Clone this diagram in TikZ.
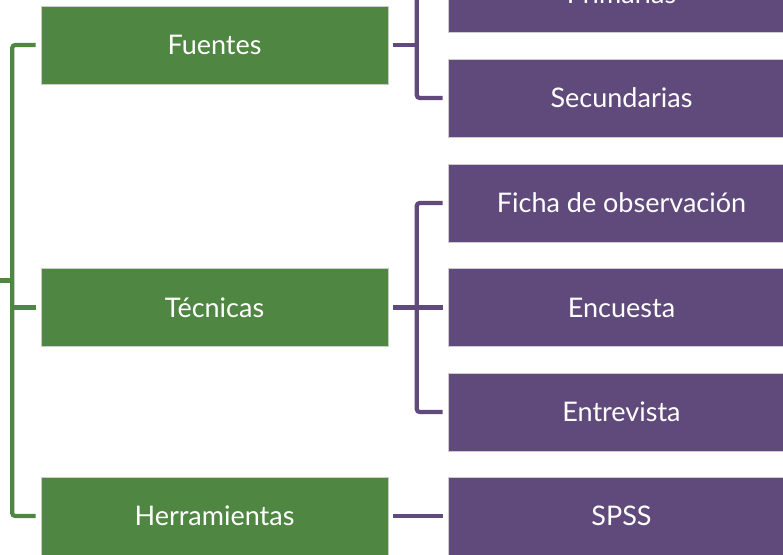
\documentclass[tikz,border=0pt]{standalone}
\usepackage{fontspec}
\setmainfont{Lato}
\definecolor{G}{HTML}{4F8642}
\definecolor{P}{HTML}{604A7B}
\begin{document}
\begin{tikzpicture}[x=1pt,y=1pt,
  basebox/.style={rectangle, draw=white!80!black, line width=0.6pt, minimum width=347pt, minimum height=78pt, inner sep=0pt, text=white, font=\fontsize{27}{32}\selectfont},
  gbox/.style={basebox, fill=G},
  pbox/.style={basebox, fill=P},
  gline/.style={draw=G, line width=4.2pt, rounded corners=3pt},
  pline/.style={draw=P, line width=4.2pt, rounded corners=3pt}]
\useasboundingbox (0,0) rectangle (783,-554);
\clip (0,0) rectangle (783,-554);
% level 1
\node[gbox] (F) at (214.5,-45) {Fuentes};
\node[gbox] (T) at (214.5,-307.5) {Técnicas};
\node[gbox] (H) at (214.5,-516) {Herramientas};
% level 2
\node[pbox] (Pr) at (621.5,6.5) {Primarias};
\node[pbox] (Se) at (621.5,-98) {Secundarias};
\node[pbox] (Fi) at (621.5,-203) {Ficha de observación};
\node[pbox] (En) at (621.5,-307.5) {Encuesta};
\node[pbox] (Et) at (621.5,-412) {Entrevista};
\node[pbox] (Sp) at (621.5,-516) {SPSS};
% green connectors
\coordinate (root) at (-10,-280.5);
\coordinate (gmid) at (12.5,-280.5);
\draw[gline] ([xshift=-5pt]F.west) -| ([xshift=-28.5pt]H.west) -- ([xshift=-5pt]H.west);
\draw[gline] ([xshift=-5pt]T.west) -- ([xshift=-28.5pt]T.west);
\draw[gline] (root) -- (gmid);
% purple connectors (Fuentes)
\draw[pline] ([xshift=5pt]F.east) -- ([xshift=-31pt]Se.west |- F.east);
\draw[pline] ([xshift=-5pt]Pr.west) -| ([xshift=-31pt]Se.west) -- ([xshift=-5pt]Se.west);
% purple connectors (Tecnicas)
\draw[pline] ([xshift=5pt]T.east) -- ([xshift=-5pt]En.west);
\draw[pline] ([xshift=-5pt]Fi.west) -| ([xshift=-31pt]Et.west) -- ([xshift=-5pt]Et.west);
% purple connectors (Herramientas)
\draw[pline] ([xshift=5pt]H.east) -- ([xshift=-5pt]Sp.west);
\end{tikzpicture}
\end{document}
